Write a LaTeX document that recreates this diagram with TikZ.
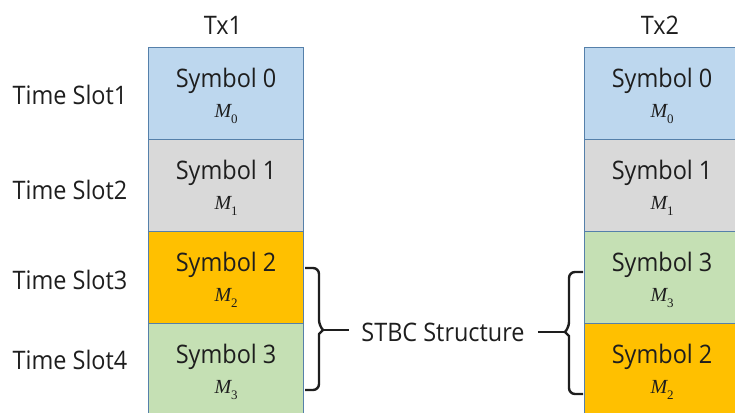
\documentclass[tikz,border=0pt]{standalone}
\usepackage{fontspec}
\setmainfont[FakeStretch=0.92]{Open Sans}
\newfontfamily\eqfont{Liberation Serif}
\definecolor{cellblue}{HTML}{BDD7EE}
\definecolor{cellgray}{HTML}{D9D9D9}
\definecolor{cellorange}{HTML}{FFC000}
\definecolor{cellgreen}{HTML}{C5E0B4}
\definecolor{cellline}{HTML}{5580AA}
\definecolor{inkdark}{HTML}{1E1E1E}
\newcommand{\symm}[1]{{\eqfont\fontsize{20}{22}\selectfont\itshape M}\raisebox{-0.45ex}{\eqfont\fontsize{13}{15}\selectfont #1}}
\tikzset{
  cell/.style={draw=cellline, line width=1.2pt, minimum width=155pt, minimum height=92pt,
    inner sep=0pt, anchor=north west},
  celltxt/.style={font=\fontsize{25.5}{28}\selectfont, text=inkdark, inner sep=0pt, anchor=base},
  labeltxt/.style={font=\fontsize{25.5}{28}\selectfont, text=inkdark, inner sep=0pt},
  brace/.style={draw=inkdark, line width=2.4pt, rounded corners=6pt, line join=round},
  leader/.style={draw=inkdark, line width=2.4pt}
}
% one time-slot cell: name, x, y of top left corner, fill, symbol index
\newcommand{\slotcell}[5]{%
  \node[cell, fill=#4] (#1) at (#2,#3) {};
  \node[celltxt] (#1-sym) at ([yshift=6pt]#1.center) {Symbol\ #5};
  \node[celltxt] (#1-m) at ([yshift=-24pt]#1.center) {\symm{#5}};
}
\begin{document}
\begin{tikzpicture}[x=1pt,y=-1pt]
\useasboundingbox (0,0) rectangle (735,412);
\clip (0,0) rectangle (735,412);

% transmitter 1 column
\slotcell{a0}{148}{47}{cellblue}{0}
\slotcell{a1}{148}{139}{cellgray}{1}
\slotcell{a2}{148}{231}{cellorange}{2}
\slotcell{a3}{148}{323}{cellgreen}{3}

% transmitter 2 column
\slotcell{b0}{584}{47}{cellblue}{0}
\slotcell{b1}{584}{139}{cellgray}{1}
\slotcell{b2}{584}{231}{cellgreen}{3}
\slotcell{b3}{584}{323}{cellorange}{2}

% column headers
\node[labeltxt] (tx1) at (223,25) {Tx1};
\node[labeltxt] (tx2) at (660,25) {Tx2};

% time slot labels
\node[labeltxt] (s1) at (70,95)  {Time Slot1};
\node[labeltxt] (s2) at (70,190) {Time Slot2};
\node[labeltxt] (s3) at (70,280) {Time Slot3};
\node[labeltxt] (s4) at (70,360) {Time Slot4};

% STBC label and its braces
\node[labeltxt] (stbc) at (443,332) {STBC Structure};
\coordinate (lt) at (323,330);
\coordinate (rt) at (565,332);
\draw[brace] (305,268) -- (319,268) -- (319,326) [sharp corners] -- (lt) -- (319,334) [rounded corners=6pt] -- (319,390) -- (305,390);
\draw[brace] (583,272) -- (569,272) -- (569,328) [sharp corners] -- (rt) -- (569,336) [rounded corners=6pt] -- (569,394) -- (583,394);
\draw[leader] (lt) -- ([xshift=-12pt]stbc.west |- lt);
\draw[leader] ([xshift=13pt]stbc.east |- rt) -- (rt);
\end{tikzpicture}
\end{document}
